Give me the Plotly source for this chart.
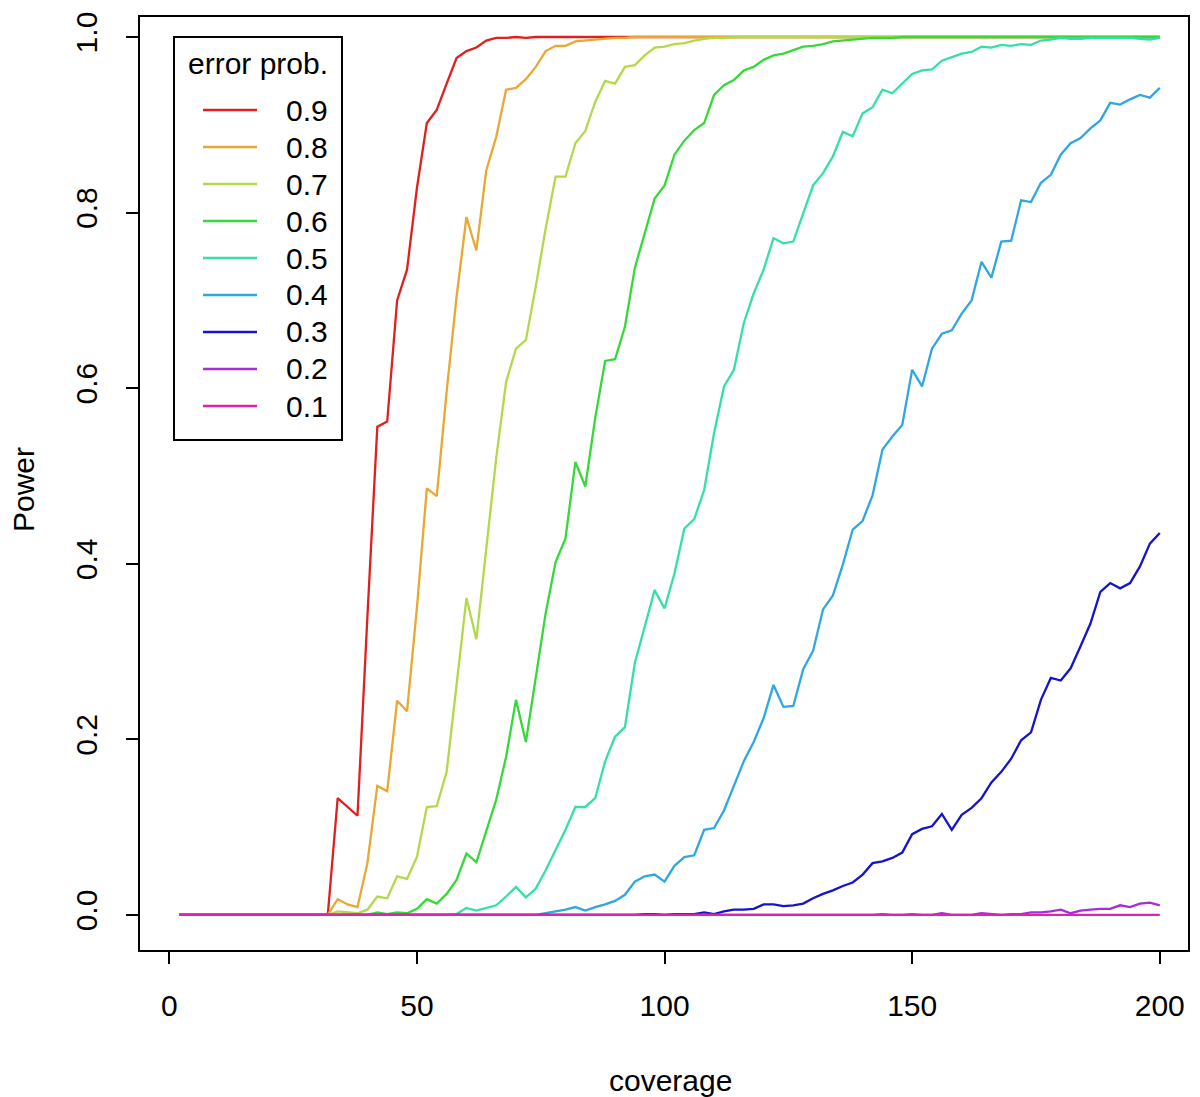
import plotly.graph_objects as go

# coverage grid (x) and power curves per error probability
coverage = list(range(2, 202, 2))

power_09 = [0.0] * 16 + [
    0.133, 0.123, 0.113, 0.34, 0.556, 0.562, 0.700, 0.735, 0.828, 0.902,
    0.917, 0.947, 0.976, 0.984, 0.988, 0.996, 0.999, 0.999, 1.0, 0.999, 1.0,
] + [1.0] * 63

power_08 = [0.0] * 16 + [
    0.018, 0.012, 0.009, 0.059, 0.147, 0.141, 0.244, 0.232, 0.35, 0.486,
    0.477, 0.596, 0.704, 0.795, 0.757, 0.848, 0.886, 0.940, 0.942, 0.952,
    0.966, 0.984, 0.990, 0.990, 0.995, 0.996, 0.997, 0.998, 0.999, 0.999,
] + [1.0] * 54

power_07 = [0.0] * 16 + [
    0.004, 0.003, 0.002, 0.006, 0.021, 0.019, 0.044, 0.041, 0.066, 0.123,
    0.124, 0.163, 0.26, 0.361, 0.314, 0.42, 0.52, 0.607, 0.645, 0.655,
    0.716, 0.782, 0.841, 0.841, 0.879, 0.893, 0.926, 0.950, 0.947, 0.966,
    0.968, 0.979, 0.988, 0.989, 0.992, 0.993, 0.996, 0.998, 0.999, 0.999,
] + [1.0] * 44

power_06 = [0.0] * 19 + [
    0.0, 0.003, 0.001, 0.003, 0.002, 0.007, 0.018, 0.013, 0.024, 0.040,
    0.070, 0.060, 0.095, 0.131, 0.180, 0.245, 0.197, 0.268, 0.344, 0.402,
    0.429, 0.516, 0.488, 0.566, 0.631, 0.633, 0.670, 0.737, 0.776, 0.816,
    0.831, 0.866, 0.882, 0.894, 0.902, 0.934, 0.945, 0.951, 0.962, 0.966,
    0.974, 0.979, 0.981, 0.985, 0.989, 0.990, 0.992, 0.995, 0.996, 0.997,
    0.998, 0.999, 0.999, 0.999,
] + [1.0] * 27

power_05 = [0.0] * 28 + [
    0.001, 0.008, 0.005, 0.008, 0.011, 0.021, 0.032, 0.020, 0.030, 0.051,
    0.074, 0.097, 0.123, 0.123, 0.133, 0.175, 0.203, 0.214, 0.287, 0.328,
    0.370, 0.349, 0.389, 0.440, 0.451, 0.484, 0.549, 0.602, 0.621, 0.674,
    0.708, 0.735, 0.771, 0.765, 0.767, 0.799, 0.831, 0.845, 0.864, 0.892,
    0.887, 0.913, 0.920, 0.940, 0.936, 0.947, 0.958, 0.962, 0.963, 0.973,
    0.977, 0.981, 0.983, 0.989, 0.988, 0.991, 0.990, 0.992, 0.991, 0.996,
    0.997, 0.999, 0.998, 0.998, 0.999, 0.999, 0.999, 0.999, 0.999, 0.998,
    0.997, 0.999,
]

power_04 = [0.0] * 36 + [
    0.0, 0.002, 0.004, 0.006, 0.009, 0.005, 0.009, 0.012, 0.016, 0.023,
    0.038, 0.044, 0.046, 0.038, 0.056, 0.066, 0.068, 0.097, 0.099, 0.119,
    0.147, 0.175, 0.197, 0.224, 0.262, 0.237, 0.238, 0.280, 0.301, 0.348,
    0.364, 0.399, 0.439, 0.449, 0.478, 0.530, 0.545, 0.558, 0.621, 0.602,
    0.645, 0.662, 0.666, 0.685, 0.700, 0.744, 0.726, 0.767, 0.768, 0.814,
    0.812, 0.834, 0.843, 0.866, 0.879, 0.885, 0.896, 0.905, 0.925, 0.923,
    0.929, 0.934, 0.931, 0.942,
]

power_03 = [0.0] * 47 + [
    0.001, 0.001, 0.0, 0.001, 0.001, 0.001, 0.003, 0.001, 0.004, 0.006,
    0.006, 0.007, 0.012, 0.012, 0.010, 0.011, 0.013, 0.019, 0.024, 0.028,
    0.033, 0.037, 0.046, 0.059, 0.061, 0.065, 0.071, 0.092, 0.098, 0.101,
    0.115, 0.097, 0.114, 0.122, 0.133, 0.151, 0.163, 0.178, 0.199, 0.208,
    0.245, 0.270, 0.267, 0.281, 0.306, 0.332, 0.368, 0.378, 0.372, 0.378,
    0.397, 0.423, 0.435,
]

power_02 = [0.0] * 70 + [
    0.0, 0.001, 0.0, 0.0, 0.001, 0.0, 0.0, 0.002, 0.0, 0.0,
    0.0, 0.002, 0.001, 0.0, 0.001, 0.001, 0.003, 0.003, 0.004, 0.006,
    0.002, 0.005, 0.006, 0.007, 0.007, 0.011, 0.009, 0.013, 0.014, 0.011,
]

power_01 = [0.0] * 100

labels = ["0.9", "0.8", "0.7", "0.6", "0.5", "0.4", "0.3", "0.2", "0.1"]
series = [power_09, power_08, power_07, power_06, power_05,
          power_04, power_03, power_02, power_01]
colors = ["#E0201E", "#E9A834", "#B3D94A", "#36D93A", "#35DFA8",
          "#2FA7E0", "#1414CC", "#A42ED8", "#E022B4"]

# the page body adds an 8px margin, so the figure is drawn 8px smaller
OFF = 8
W, H = 1200 - OFF, 1097 - OFF
L, R, T, B = 140 - OFF, 12, 17 - OFF, 147
pw, ph = W - L - R, H - T - B


def px(x):
    # screen pixel -> paper x
    return (x - OFF - L) / pw


def py(y):
    # screen pixel -> paper y
    return (H - B - (y - OFF)) / ph


fig = go.Figure()
for lab, ys, col in zip(labels, series, colors):
    fig.add_trace(go.Scatter(x=coverage, y=ys, mode="lines", name=lab,
                             line=dict(color=col, width=2.3),
                             showlegend=False))

font = "Liberation Sans, Arial, Helvetica, sans-serif"
axis_common = dict(showline=True, linecolor="black", linewidth=2, mirror=True,
                   ticks="outside", ticklen=12, tickwidth=2, tickcolor="black",
                   showgrid=False, zeroline=False, automargin=False,
                   tickfont=dict(family=font, size=30, color="black"))

# hand-built legend box, R style
shapes = [dict(type="rect", xref="paper", yref="paper",
               x0=px(174), x1=px(342), y0=py(440), y1=py(37),
               line=dict(color="black", width=2), fillcolor="white",
               layer="above")]
annotations = [dict(text="error prob.", xref="paper", yref="paper",
                    x=px(186), y=py(64), xanchor="left", yanchor="middle",
                    showarrow=False, font=dict(size=30))]
for i, (lab, col) in enumerate(zip(labels, colors)):
    yc = py(110 + 37 * i)
    shapes.append(dict(type="line", xref="paper", yref="paper",
                       x0=px(203), x1=px(257), y0=yc, y1=yc,
                       line=dict(color=col, width=2.3), layer="above"))
    annotations.append(dict(text=lab, xref="paper", yref="paper",
                            x=px(284), y=yc, xanchor="left", yanchor="middle",
                            showarrow=False, font=dict(size=30)))

annotations.append(dict(text="coverage", xref="paper", yref="paper",
                        x=px(670), y=py(1080), xanchor="center",
                        yanchor="middle", showarrow=False,
                        font=dict(size=30)))
annotations.append(dict(text="Power", xref="paper", yref="paper",
                        x=px(24), y=py(490), xanchor="center",
                        yanchor="middle", textangle=-90, showarrow=False,
                        font=dict(size=30)))

fig.update_layout(
    width=W, height=H,
    margin=dict(l=L, r=R, t=T, b=B),
    paper_bgcolor="white", plot_bgcolor="white",
    font=dict(family=font, color="black"),
    xaxis=dict(range=[-5.92, 205.7], tickvals=[0, 50, 100, 150, 200],
               ticklabelstandoff=16, **axis_common),
    yaxis=dict(range=[-0.0399, 1.0228], tickvals=[0, 0.2, 0.4, 0.6, 0.8, 1.0],
               ticktext=["0.0", "0.2", "0.4", "0.6", "0.8", "1.0"],
               tickangle=-90, ticklabelstandoff=17, **axis_common),
    shapes=shapes,
    annotations=annotations,
    showlegend=False,
)

fig.write_html("out.html")
